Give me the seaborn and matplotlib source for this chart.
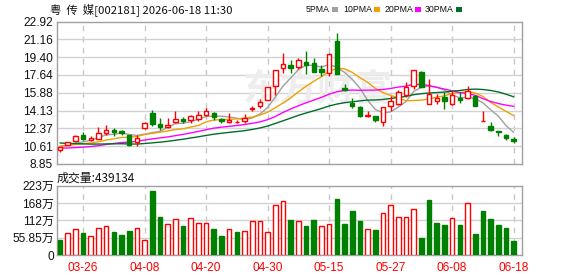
import numpy as np
import pandas as pd
import matplotlib
matplotlib.use("Agg")
import matplotlib.pyplot as plt
from matplotlib.patches import Rectangle
import seaborn as sns

# ---------------- data ----------------
tick_idx = [3, 11, 19, 27, 35, 43, 51, 59]
tick_labels = ["03-26", "04-08", "04-20", "04-30", "05-15", "05-27", "06-08", "06-18"]

opens = [10.20, 10.76, 11.13, 11.75, 11.19, 11.36, 11.92, 12.24, 12.14, 11.68,
         10.99, 12.41, 13.88, 12.80, 12.47, 12.96, 13.32, 13.16, 13.29, 13.65,
         13.88, 13.29, 13.03, 12.95, 13.06, 14.28, 14.54, 15.19, 16.60, 18.31,
         18.64, 18.41, 18.90, 18.85, 18.21, 17.82, 21.00, 16.40, 14.87, 14.48,
         13.62, 13.55, 12.96, 14.60, 14.77, 15.69, 16.60, 17.95, 14.77, 15.06,
         15.42, 14.77, 15.32, 15.40, 15.52, 13.09, 12.57, 12.14, 11.72, 11.29]
highs = [10.55, 11.06, 11.70, 11.98, 11.58, 12.47, 12.66, 12.41, 12.24, 11.75,
         11.75, 12.95, 14.21, 13.35, 13.35, 14.04, 13.49, 13.72, 14.11, 14.38,
         13.94, 13.40, 13.88, 13.15, 13.82, 14.60, 15.26, 16.50, 18.12, 19.85,
         19.13, 19.30, 20.02, 19.30, 18.64, 19.79, 21.82, 16.77, 15.36, 14.60,
         14.04, 13.60, 14.48, 15.52, 16.18, 16.97, 18.12, 18.05, 17.26, 15.78,
         15.91, 16.01, 15.91, 16.57, 15.69, 14.11, 12.96, 12.14, 11.82, 11.48]
lows = [10.05, 10.70, 11.05, 11.19, 11.15, 11.30, 11.75, 11.58, 11.75, 10.60,
        10.67, 12.35, 12.63, 12.24, 12.40, 12.90, 12.93, 12.93, 13.06, 13.59,
        13.22, 12.90, 12.90, 12.88, 12.90, 14.10, 14.38, 15.15, 15.66, 17.88,
        17.82, 18.21, 17.72, 17.90, 17.56, 17.49, 17.75, 16.05, 14.38, 13.49,
        13.49, 12.96, 12.63, 14.04, 14.70, 15.46, 16.25, 16.44, 14.77, 14.77,
        14.28, 14.70, 14.87, 15.30, 14.54, 13.09, 12.07, 11.58, 11.19, 10.96]
closes = [10.50, 10.99, 11.65, 11.36, 11.45, 11.92, 12.24, 11.97, 11.95, 10.76,
          11.43, 12.86, 12.80, 12.51, 12.70, 13.29, 13.06, 13.59, 13.65, 14.11,
          13.45, 13.06, 13.20, 13.02, 13.35, 14.36, 15.00, 16.44, 18.12, 18.77,
          18.37, 19.13, 18.67, 17.93, 17.98, 19.69, 17.75, 16.11, 14.54, 13.62,
          13.72, 13.16, 14.48, 15.03, 15.95, 16.50, 18.12, 16.44, 15.78, 15.32,
          15.03, 15.69, 15.12, 16.05, 14.54, 13.09, 12.24, 11.97, 11.43, 11.13]
# volume in 万 shares
volumes = [49, 71, 83, 71, 60, 86, 92, 74, 64, 77,
           86, 48, 206, 122, 99, 115, 93, 118, 103, 103,
           84, 61, 83, 74, 76, 111, 111, 74, 160, 173,
           113, 111, 93, 113, 92, 100, 180, 100, 142, 109,
           83, 80, 134, 161, 124, 124, 147, 55, 177, 104,
           96, 118, 96, 169, 68, 142, 116, 96, 87, 43.9]
# closes before the visible window (only feed the moving averages)
prior_closes = [12.3, 12.1, 12.4, 12.0, 11.8, 11.9, 11.6, 11.7, 11.5, 11.7,
                11.2, 10.8, 10.5, 10.3, 10.1, 9.9, 10.0, 10.1, 10.0, 9.9,
                10.3, 10.5, 10.6, 10.8, 10.7, 10.6, 10.7, 10.6, 10.7]

ma_periods = [5, 10, 20, 30]
ma_names = ["5PMA", "10PMA", "20PMA", "30PMA"]
ma_colors = ["#a0a0a0", "#f0a000", "#ff00ff", "#006e28"]

price_ticks = [8.85, 10.61, 12.37, 14.13, 15.88, 17.64, 19.40, 21.16, 22.92]
vol_ticks = [0, 55.85, 111.7, 167.55, 223.4]
vol_tick_labels = ["0", "55.85万", "112万", "168万", "223万"]

RED = "#ff0000"
GREEN = "#008000"

# ---------------- style ----------------
sns.set_style("white")
plt.rcParams['font.family'] = ['Liberation Sans', 'Noto Sans CJK SC', 'DejaVu Sans']

W, H = 578, 276
fig = plt.figure(figsize=(W / 100, H / 100), dpi=100)
ax = fig.add_axes([57 / W, 1 - 164 / H, 465 / W, 142.5 / H])
axv = fig.add_axes([57 / W, 1 - 255 / H, 465 / W, 69.3 / H])

n = len(closes)

# moving averages
allc = pd.Series(prior_closes + closes)
rows = []
for p, name in zip(ma_periods, ma_names):
    vals = allc.rolling(p).mean().iloc[len(prior_closes):].values
    for i, v in enumerate(vals):
        rows.append({"x": i, "value": v, "ma": name})
ma_df = pd.DataFrame(rows)

for a in (ax, axv):
    a.set_xlim(-0.39, 60.08)
    for s in a.spines.values():
        s.set_color("#a0a0a0")
        s.set_linewidth(1)
    for t in tick_idx:
        a.axvline(t, color="#c8c8c8", lw=1, ls=(0, (4, 4)), zorder=0)

# price panel
ax.set_ylim(8.85, 22.92)
for t in price_ticks[1:-1]:
    ax.axhline(t, color="#d2d2d2", lw=1, zorder=0)
ax.set_yticks(price_ticks)
ax.set_yticklabels([f"{t:.2f}" for t in price_ticks])
ax.set_xticks([])
ax.tick_params(axis="y", length=0, pad=3, labelsize=8.6, labelcolor="#111111")

ax.text(0.56, 0.52, "东方财富", transform=ax.transAxes, fontsize=27, color="#ededed",
        ha="center", va="center", fontstyle="italic", fontweight="bold",
        family=["Noto Sans CJK SC"], zorder=0.5)

sns.lineplot(data=ma_df, x="x", y="value", hue="ma", hue_order=ma_names,
             palette=ma_colors, ax=ax, legend=False, linewidth=1, zorder=2)

bw = 0.58
for i in range(n):
    o, h, l, c = opens[i], highs[i], lows[i], closes[i]
    up = c >= o
    col = RED if up else GREEN
    ax.vlines(i, l, h, color=col, lw=1, zorder=3)
    ax.add_patch(Rectangle((i - bw / 2, min(o, c)), bw, abs(c - o),
                           facecolor="white" if up else GREEN, edgecolor=col,
                           lw=1, zorder=4))
ax.set_xlabel("")
ax.set_ylabel("")

# volume panel
axv.set_ylim(0, 223.4)
for t in vol_ticks[1:-1]:
    axv.axhline(t, color="#d2d2d2", lw=1, zorder=0)
prev = [prior_closes[-1]] + closes[:-1]
for i in range(n):
    up = closes[i] >= prev[i]
    col = RED if up else GREEN
    axv.bar(i, volumes[i], width=0.6, facecolor="white" if up else GREEN,
            edgecolor=col, lw=1, zorder=3)
axv.set_yticks(vol_ticks)
axv.set_yticklabels(vol_tick_labels)
axv.set_xticks(tick_idx)
axv.set_xticklabels(tick_labels)
axv.tick_params(axis="y", length=0, pad=2, labelsize=8.6, labelcolor="#111111")
axv.tick_params(axis="x", length=0, pad=5, labelsize=8.6, labelcolor=RED)

# texts
fig.text(50 / W, 1 - 10 / H, "粤  传  媒[002181] 2026-06-18 11:30", fontsize=8.2,
         family=["Noto Sans CJK SC", "DejaVu Sans"], va="center", ha="left", color="#111111")
fig.text(57 / W, 1 - 178 / H, "成交量:439134", fontsize=8.6,
         family=["Noto Sans CJK SC", "DejaVu Sans"], va="center", ha="left", color="#111111")

sq_x = [332, 374, 415, 456]
for sx, name, col in zip(sq_x, ma_names, ma_colors):
    fig.text((sx - 2) / W, 1 - 10 / H, name, fontsize=6.3, va="center", ha="right",
             color="#111111")
    fig.patches.append(Rectangle((sx / W, 1 - 12 / H), 6 / W, 5 / H,
                                 transform=fig.transFigure, facecolor=col,
                                 edgecolor="none", figure=fig))

fig.savefig("out.png", dpi=100)
